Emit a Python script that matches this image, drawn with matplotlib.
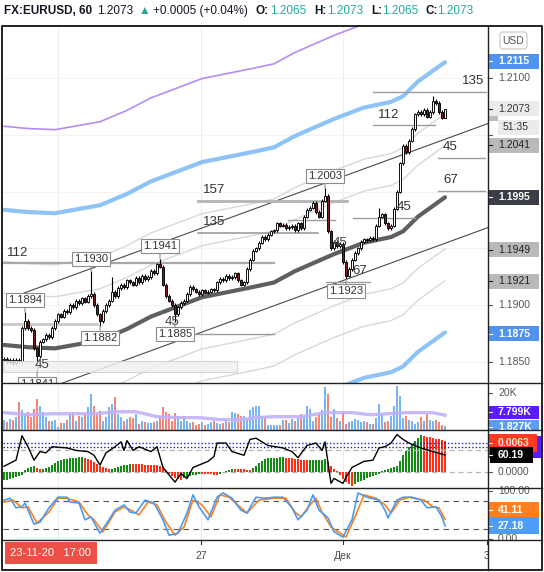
import matplotlib
matplotlib.use("Agg")
import matplotlib.pyplot as plt
from matplotlib.patches import Rectangle, FancyBboxPatch

plt.rcParams["font.family"] = ["Liberation Sans", "DejaVu Sans"]

W, H = 544, 572

# ---------------- data ----------------
BASE = 1.1800          # prices below are given in pips above this base
PIP = 0.0001
first_open_pips = 52
close_pips = [53, 50, 52, 49, 52, 51, 80, 86, 80, 78,
              62, 55, 68, 70, 74, 72, 80, 86, 92, 90,
              95, 94, 100, 98, 104, 102, 106, 103, 108, 110,
              100, 92, 86, 95, 100, 104, 112, 108, 115, 118,
              116, 122, 120, 118, 124, 120, 126, 123, 125, 130,
              128, 136, 134, 118, 108, 104, 100, 92, 98, 102,
              104, 110, 116, 114, 112, 110, 113, 111, 112, 114,
              113, 120, 123, 122, 126, 124, 125, 128, 122, 118,
              120, 132, 140, 148, 150, 155, 160, 158, 162, 165,
              166, 172, 170, 171, 168, 169, 170, 166, 172, 168,
              178, 184, 186, 190, 182, 178, 192, 196, 165, 150,
              156, 152, 154, 138, 126, 132, 140, 146, 150, 156,
              158, 157, 159, 158, 170, 178, 180, 172, 168, 170,
              185, 200, 225, 240, 235, 245, 255, 268, 270, 268,
              272, 266, 270, 280, 278, 270, 265, 273]
wick_pips = 1.5
pivot_high_pips = {7: 94, 29: 130, 36: 125, 52: 141, 107: 203, 125: 186, 143: 284, 147: 273}
pivot_low_pips = {11: 41, 32: 82, 57: 85, 114: 123, 147: 265}
labeled_pivots = [(7, "H"), (29, "H"), (52, "H"), (107, "H"),
                  (11, "L"), (32, "L"), (57, "L"), (114, "L")]

ma_bars = [0, 8, 17, 32, 41, 49, 59, 66, 83, 90, 97, 110, 120, 129, 133, 138, 147]
ma_pips = [65, 63, 62, 69, 79, 90, 100, 107, 116, 120, 130, 145, 155, 160, 165, 178, 195]
band_width_pips = 119
band_fibs = [0.382, 0.618, 1.0, 1.618]

volume_k = [5.0, 4.3, 5.9, 5.4, 7.0, 15.1, 10.8, 8.6, 9.7, 7.0, 11.4,
            16.8, 13.0, 9.7, 7.0, 4.9, 4.9, 5.4, 1.6, 3.8, 3.8,
            5.4, 8.6, 9.7, 4.9, 7.6, 7.0, 8.6, 12.4, 19.5, 13.0,
            8.6, 10.3, 4.9, 7.0, 12.4, 14.1, 17.8, 8.6, 7.0, 4.9,
            5.9, 7.0, 6.5, 8.6, 3.2, 4.9, 4.3, 3.8, 3.8, 4.3,
            4.9, 7.6, 12.4, 9.7, 8.6, 4.9, 9.2, 7.6, 4.9, 7.6,
            4.9, 3.8, 4.3, 2.7, 3.2, 4.3, 2.2, 3.2, 4.3, 4.9,
            3.8, 3.2, 3.8, 4.9, 4.3, 9.7, 9.2, 8.6, 7.6, 7.6,
            5.9, 10.8, 12.4, 13.0, 13.0, 7.6, 7.0, 2.7, 2.7, 2.7,
            2.7, 2.2, 5.4, 5.4, 3.8, 5.9, 4.9, 6.5, 8.6, 7.0,
            13.0, 11.4, 4.9, 7.0, 8.6, 10.8, 23.2, 19.5, 7.0, 11.4,
            6.5, 4.9, 10.3, 3.2, 4.3, 4.9, 5.9, 5.4, 4.3, 4.9,
            4.3, 3.2, 3.2, 6.5, 14.1, 8.6, 4.3, 4.9, 7.6, 13.0,
            23.8, 18.4, 6.5, 7.6, 5.4, 4.9, 3.2, 4.3, 7.0, 4.9,
            8.6, 5.4, 4.9, 5.4, 4.3, 2.7, 1.8]
vol_ma_bars = [0, 8, 16, 30, 38, 44, 51, 58, 65, 72, 79, 84, 90, 99, 107, 116, 122, 128, 134, 143, 147]
vol_ma_k = [9.2, 8.1, 8.6, 8.6, 9.7, 9.7, 7.0, 6.5, 6.5, 5.4, 5.4, 6.5, 7.0, 7.0, 9.2, 9.2, 8.1, 8.6, 9.2, 9.2, 7.8]

macd_hist_e4 = [-16, -16, -14, -12, -10, -8, -6, 4, 8, 10,
                12, 8, 6, 6, 8, 10, 14, 18, 22, 24,
                26, 27, 28, 28.5, 29, 29.5, 30, 29, 27, 24,
                20, 16, 12, 10, 8, 6.5, 7, 8, 10, 12,
                14, 15, 16, 15.8, 15.6, 15.4, 15.2, 15, 14.7, 14.4,
                14, 13.5, 12.5, 10, 4, -3, -7, -11, -14, -15,
                -12, -10, -8, -6, -5, -4, -4.2, -4.4, -4.6, -4.8,
                -5, -5.2, -3, 0.5, 2, 4, 6, 5.8, 5.6, 5.4,
                5.2, 5.0, 4.8, 8, 12, 18, 22, 26, 28, 28.4,
                28.8, 29, 29.2, 29.4, 29, 28.4, 27.6, 26.8, 26, 25,
                24.4, 24, 24.2, 24.4, 24.6, 24.8, 25, 25.2, 20, 12,
                6, 2, -6, -14, -20, -24, -28, -24, -20, -18,
                -16, -12, -10, -8, -6, -4, 2, 4, 6, 8,
                10, 12, 22, 34, 42, 50, 56, 62, 68, 74,
                72, 71, 70, 68, 67, 66, 64, 63]

rsi_bars = [0, 4, 6, 8, 10, 12, 14, 16, 21, 24, 28, 30, 32, 34, 37, 39, 40, 41, 43, 45,
            49, 51, 53, 55, 57, 59, 61, 63, 68, 70, 71, 74, 76, 80, 82, 84, 88, 93, 96, 98,
            101, 104, 106, 107, 108, 109, 110, 113, 114, 116, 120, 123, 125, 127, 129, 131,
            133, 135, 139, 143, 147]
rsi_vals = [51, 56, 76, 67, 56, 63, 62, 67, 66, 64, 63, 60, 52, 62, 67, 71, 64, 72, 64, 67,
            63, 67, 50, 44, 38, 45, 41, 50, 55, 59, 70, 70, 63, 60, 73, 74, 68, 66, 63, 58,
            68, 70, 64, 71, 54, 37, 41, 37, 42, 50, 55, 56, 66, 67, 70, 77,
            73, 70, 66, 63, 60.19]

stoch_k_bars = [0, 2, 4, 6, 7, 10, 12, 15, 18, 21, 22, 25, 27, 29, 32, 35, 37, 40, 42, 44,
                47, 50, 53, 55, 58, 61, 63, 65, 68, 71, 73, 76, 79, 81, 84, 87, 90, 93, 96, 98,
                101, 103, 105, 108, 110, 113, 116, 118, 121, 125, 127, 128, 131, 133, 136, 139,
                141, 144, 146, 147]
stoch_k = [81, 85, 65, 67, 75, 31, 35, 65, 87, 87, 77, 75, 40, 46, 12, 40, 60, 71, 56, 54,
           81, 75, 40, 8, 12, 54, 92, 67, 40, 87, 96, 85, 60, 54, 87, 85, 87, 87, 65, 40,
           60, 92, 60, 44, 15, 4, 40, 96, 87, 81, 60, 44, 81, 87, 87, 81, 65, 67, 46, 27.18]
stoch_d_bars = [0, 3, 6, 8, 11, 15, 18, 21, 25, 28, 30, 33, 37, 40, 43, 45, 48, 51, 54, 57,
                60, 63, 66, 69, 72, 75, 79, 81, 85, 90, 94, 97, 99, 102, 104, 106, 109, 114,
                117, 120, 124, 127, 129, 132, 135, 140, 143, 145, 147]
stoch_d = [77, 81, 65, 67, 33, 56, 85, 85, 77, 50, 40, 15, 56, 67, 58, 50, 77, 71, 35, 8,
           25, 81, 71, 46, 92, 87, 65, 54, 81, 85, 85, 56, 46, 71, 85, 56, 25, 4,
           46, 92, 85, 71, 54, 81, 87, 81, 67, 65, 41.11]

# horizontal levels: start bar, end bar, level (pips), label, label bar, colour, width
levels = [(-0.33, 90, 137.1, "112", 1.0, "#a9a9a9", 1.6),
          (-0.33, 31, 83.5, "", None, "#cacaca", 2.0),
          (64.7, 114.3, 191.7, "157", 66.3, "#b3b3b3", 2.0),
          (64.7, 104.7, 163.6, "135", 66.3, "#9d9d9d", 1.2),
          (63.3, 90, 74.6, "", None, "#9d9d9d", 1.0),
          (94.7, 110.3, 175.0, "", None, "#9d9d9d", 1.0),
          (107.3, 122, 120.4, "67", 116, "#9d9d9d", 1.0),
          (116.3, 137, 176.8, "45", 131, "#9d9d9d", 1.0),
          (144.7, 160.3, 229.6, "45", 146.3, "#9d9d9d", 1.0),
          (144.7, 160.3, 200.5, "67", 146.3, "#9d9d9d", 1.0),
          (123, 143.7, 258.6, "112", 124.7, "#9d9d9d", 1.0),
          (123, 160.7, 287.7, "135", 152.7, "#9d9d9d", 1.0)]
free_labels = [(109.7, 154.8, "45"), (53.7, 85.2, "45"), (10.3, 47.4, "45")]
zone = (-0.33, 77.7, 41.2, 50.9)
channel_anchor = (6.67, 110.7)
channel_end_bar = 161.7
channel_slope = 0.965
channel_width = 91.6

price_ticks = [1.1850, 1.1900, 1.1950, 1.2000, 1.2050, 1.2100]
price_boxes = [(1.2115, "#4f93ee", "white", True),
               (1.2073, "#ebebeb", "#333333", False),
               (1.2041, "#b9b9b9", "#222222", False),
               (1.1995, "#3b3e47", "white", True),
               (1.1949, "#b9b9b9", "#222222", False),
               (1.1921, "#b9b9b9", "#222222", False),
               (1.1875, "#4f93ee", "white", True)]
time_labels = [("27", 65.67), ("Дек", 113), ("3", 161)]
grid_bars = [18, 65.67, 113]

# ---------------- figure ----------------
XLO, XHI = -1 / 3, 484 / 3
fig = plt.figure(figsize=(W / 100, H / 100), dpi=100)
fig.patch.set_facecolor("white")


def panel(x0, y0, x1, y1):
    a = fig.add_axes([x0 / W, 1 - y1 / H, (x1 - x0) / W, (y1 - y0) / H])
    a.set_xlim(XLO, XHI)
    a.axis("off")
    return a


def price(p):
    return BASE + p * PIP


n = len(close_pips)
bars = list(range(n))
opens = [first_open_pips] + close_pips[:-1]
highs = [pivot_high_pips.get(i, max(opens[i], close_pips[i]) + wick_pips) for i in bars]
lows = [pivot_low_pips.get(i, min(opens[i], close_pips[i]) - wick_pips) for i in bars]
up = [close_pips[i] >= opens[i] for i in bars]

# ---- main price panel ----
ax = panel(3, 25, 488, 383)
ax.set_ylim(1.18315, 1.21467)
for g in grid_bars:
    ax.axvline(g, color="#ededed", lw=0.8, zorder=0)
for t in price_ticks:
    ax.axhline(t, color="#f3f3f3", lw=0.8, zorder=0)

band_styles = {0.382: ("#d8d8d8", 1.0), 0.618: ("#d8d8d8", 1.0),
               1.0: ("#8fc3f7", 3.0), 1.618: ("#b48cf6", 1.2)}
for f in band_fibs:
    col, lw = band_styles[f]
    for s in (1, -1):
        ax.plot(ma_bars, [price(m + s * f * band_width_pips) for m in ma_pips],
                color=col, lw=lw, zorder=1, solid_capstyle="round")
ax.plot(ma_bars, [price(m) for m in ma_pips], color="#5f5f5f", lw=3, zorder=2,
        solid_capstyle="round")

cx = [channel_anchor[0], channel_end_bar]
cu = [channel_anchor[1] + channel_slope * (x - channel_anchor[0]) for x in cx]
ax.plot(cx, [price(v) for v in cu], color="#4a4a4a", lw=0.8, zorder=2)
ax.plot(cx, [price(v - channel_width) for v in cu], color="#4a4a4a", lw=0.8, zorder=2)

for (b0, b1, lv, lab, lb, col, lw) in levels:
    ax.plot([b0, b1], [price(lv), price(lv)], color=col, lw=lw, zorder=3)
    if lab:
        ax.annotate(lab, (lb, price(lv)), xytext=(0, 7.6), textcoords="offset points",
                    ha="left", va="center", fontsize=9.5, color="#333333", zorder=8)
for (b, lv, lab) in free_labels:
    ax.annotate(lab, (b, price(lv)), xytext=(0, 0), textcoords="offset points",
                ha="left", va="center", fontsize=9.5, color="#444444", zorder=8)

ax.vlines(bars, [price(v) for v in lows], [price(v) for v in highs],
          colors="black", lw=0.8, zorder=4)
bottoms = [price(min(opens[i], close_pips[i])) for i in bars]
heights = [max(abs(close_pips[i] - opens[i]), 0.3) * PIP for i in bars]
fills = ["white" if u else "#7a1c1c" for u in up]
ax.bar(bars, heights, bottom=bottoms, width=0.66, color=fills, edgecolor="black",
       linewidth=0.65, zorder=5)

ax.add_patch(Rectangle((zone[0], price(zone[2])), zone[1] - zone[0],
                       (zone[3] - zone[2]) * PIP, fc="#eef0f2", ec="#cfd1d4",
                       lw=0.8, alpha=0.85, zorder=6))

for (i, kind) in labeled_pivots:
    v = highs[i] if kind == "H" else lows[i]
    dy = 9 if kind == "H" else -8.6
    ax.annotate(f"{price(v):.4f}", (i, price(v)), xytext=(0, dy), textcoords="offset points",
                ha="center", va="center", fontsize=8, color="#333333", zorder=9,
                bbox=dict(boxstyle="square,pad=0.18", fc="white", ec="#8c8c8c", lw=0.8),
                arrowprops=dict(arrowstyle="-", color="#8c8c8c", lw=0.8, shrinkA=0, shrinkB=0),
                annotation_clip=False, clip_on=True)

# ---- volume panel ----
axv = panel(3, 383, 488, 430)
axv.set_ylim(-0.27, 25.4)
for g in grid_bars:
    axv.axvline(g, color="#ededed", lw=0.8, zorder=0)
axv.bar(bars, volume_k, width=0.42,
        color=["#78b5f2" if u else "#f0877d" for u in up], zorder=2)
axv.plot(vol_ma_bars, vol_ma_k, color="#c1b1f7", lw=2.4, alpha=0.9, zorder=3)

# ---- MACD / RSI panel ----
axm = panel(3, 430, 488, 488)
axm.set_ylim(-0.0032, 0.0084)
for g in grid_bars:
    axm.axvline(g, color="#ededed", lw=0.8, zorder=0)
hist_cols = []
for i, v in enumerate(macd_hist_e4):
    prev = macd_hist_e4[i - 1] if i else v
    hist_cols.append("#138a13" if v >= prev else "#ff2e17")
axm.bar(bars, [v * 1e-4 for v in macd_hist_e4], width=0.7, color=hist_cols, zorder=2)
axm.axhline(0, color="#b5b5b5", lw=0.9, ls=(0, (4, 3)), zorder=1)
axr = panel(3, 430, 488, 488)
axr.set_ylim(33.2, 80.7)
axr.axhline(64.3, color="#b5b5b5", lw=0.9, ls=(0, (4, 3)), zorder=1)
axr.axhline(70, color="#1c1cd0", lw=1.0, ls=(0, (1, 1.5)), zorder=1)
axr.axhline(66.7, color="#1c1cd0", lw=1.0, ls=(0, (1, 1.5)), zorder=1)
axr.plot(rsi_bars, rsi_vals, color="black", lw=1.0, zorder=3)

# ---- stochastic panel ----
axs = panel(3, 488, 488, 540)
axs.set_ylim(-2.08, 106.25)
for g in grid_bars:
    axs.axvline(g, color="#ededed", lw=0.8, zorder=0)
for lv in (80, 20):
    axs.axhline(lv, color="#555555", lw=0.8, ls=(0, (5, 4)), zorder=1)
axs.plot(stoch_d_bars, stoch_d, color="#f7821e", lw=1.2, zorder=2)
axs.plot(stoch_k_bars, stoch_k, color="#4a9af5", lw=1.2, zorder=3)

# ---------------- overlay: frame, axes labels, header ----------------
ov = fig.add_axes([0, 0, 1, 1], zorder=10)
ov.set_xlim(0, W)
ov.set_ylim(H, 0)
ov.axis("off")
ov.patch.set_alpha(0)


def to_px(a, x, y):
    X, Y = a.transData.transform((x, y))
    return X, H - Y


def clip_to(artist, y0, y1):
    artist.set_clip_path(Rectangle((486, y0), 60, y1 - y0, transform=ov.transData))


def rtick(y, text, y0=None, y1=None, show_text=True):
    ln, = ov.plot([488, 492], [y, y], color="#555555", lw=0.8, zorder=2)
    arts = [ln]
    if show_text:
        arts.append(ov.text(498, y, text, color="#555555", fontsize=7.5, va="center",
                            ha="left", zorder=2))
    if y0 is not None:
        for a in arts:
            clip_to(a, y0, y1)


def rbox(y, text, bg, fg, bold, h=15, x0=488, x1=539, y0=None, y1=None):
    r = Rectangle((x0, y - h / 2), x1 - x0, h, fc=bg, ec="none", zorder=3)
    ov.add_patch(r)
    t = ov.text(498, y, text, color=fg, fontsize=7.5, va="center", ha="left",
                fontweight="bold" if bold else "normal", zorder=4)
    ln, = ov.plot([488, 492], [y, y], color=fg, lw=0.8, zorder=4)
    if y0 is not None:
        for a in (r, t, ln):
            clip_to(a, y0, y1)


y73 = to_px(ax, 0, 1.2073)[1]
occupied = [to_px(ax, 0, p)[1] for (p, _, _, _) in price_boxes] + [y73 + 18.5]
for t in price_ticks:
    yt = to_px(ax, 0, t)[1]
    free = all(abs(yt - yo) > 10 for yo in occupied)
    rtick(yt, f"{t:.4f}", show_text=free)
for (p, bg, fg, bold) in price_boxes:
    rbox(to_px(ax, 0, p)[1], f"{p:.4f}", bg, fg, bold)
ov.add_patch(Rectangle((488, y73 + 7.5), 10, 4.5, fc="#bdbdbd", ec="none", zorder=3))
ov.add_patch(Rectangle((498, y73 + 11), 41, 15, fc="#ebebeb", ec="none", zorder=3))
ov.text(503, y73 + 18.5, "51:35", color="#333333", fontsize=7.5, va="center", ha="left", zorder=4)

ov.add_patch(FancyBboxPatch((500, 32), 27, 17, boxstyle="round,pad=0,rounding_size=3",
                            fc="white", ec="#c5c5c5", lw=0.8, zorder=3))
ov.text(513.5, 40.5, "USD", color="#555555", fontsize=7.5, ha="center", va="center", zorder=4)

# volume axis
rtick(to_px(axv, 0, 20)[1], "20K")
rbox(to_px(axv, 0, 1.827)[1] + 1, "1.827K", "#5d9df0", "white", True, h=14, y0=383, y1=430)
rbox(to_px(axv, 0, 7.799)[1] - 3, "7.799K", "#5a1cff", "white", True, h=13)

# MACD / RSI axis
rtick(to_px(axm, 0, 0)[1], "0.0000")
ov.add_patch(Rectangle((489, 436), 52, 22, fc="#5a1cff", ec="none", zorder=3))
rbox(to_px(axm, 0, 0.0063)[1] + 2.5, "0.0063", "#ff3b1f", "#ffe0dc", True, h=18, x1=537)
rbox(to_px(axr, 0, 60.19)[1], "60.19", "black", "white", True, h=16, x0=490, x1=533)

# stochastic axis
rtick(to_px(axs, 0, 100)[1], "100.00", y0=489, y1=540)
rtick(to_px(axs, 0, 0)[1], "0.00", y0=489, y1=540)
rbox(to_px(axs, 0, 41.11)[1] - 9.5, "41.11", "#ff7f1e", "white", True, h=15)
rbox(to_px(axs, 0, 27.18)[1], "27.18", "#4d9cf7", "white", True, h=17)

# time axis
for (lab, b) in time_labels:
    x = to_px(axs, b, 0)[0]
    ov.text(x, 556, lab, color="#4a4a4a", fontsize=7.5, ha="center", va="center", zorder=2)
    ov.plot([x, x], [540, 544], color="#333333", lw=0.8, zorder=2)
ov.add_patch(Rectangle((489, 541), 52, 29, fc="white", ec="none", zorder=3))
ov.add_patch(Rectangle((5, 542), 92, 22, fc="#ec4f45", ec="none", zorder=3))
ov.text(51, 553, "23-11-20   17:00", color="white", fontsize=8, ha="center", va="center", zorder=4)

# frame
ov.add_patch(Rectangle((2, 25.5), 539.5, 544.5, fill=False, ec="#111111", lw=1.3, zorder=6))
ov.plot([488, 488], [25.5, 570], color="#222222", lw=1.0, zorder=6)
for yy in (383, 430, 488, 540):
    ov.plot([2, 541.5], [yy, yy], color="#222222", lw=1.0, zorder=6)

# header
teal = "#26a69a"
dark = "#131722"
header = [(4, "FX:EURUSD, 60", dark, "bold"), (97, "1.2073", dark, "normal"),
          (139, "▲", teal, "normal"), (153, "+0.0005 (+0.04%)", dark, "normal"),
          (256, "O:", dark, "bold"), (270, "1.2065", teal, "normal"),
          (314, "H:", dark, "bold"), (327, "1.2073", teal, "normal"),
          (371, "L:", dark, "bold"), (382, "1.2065", teal, "normal"),
          (425, "C:", dark, "bold"), (437, "1.2073", teal, "normal")]
for (x, s, c, w) in header:
    ov.text(x, 11, s, color=c, fontsize=8.5, fontweight=w, ha="left", va="center", zorder=4)

fig.savefig("out.png", dpi=100)
